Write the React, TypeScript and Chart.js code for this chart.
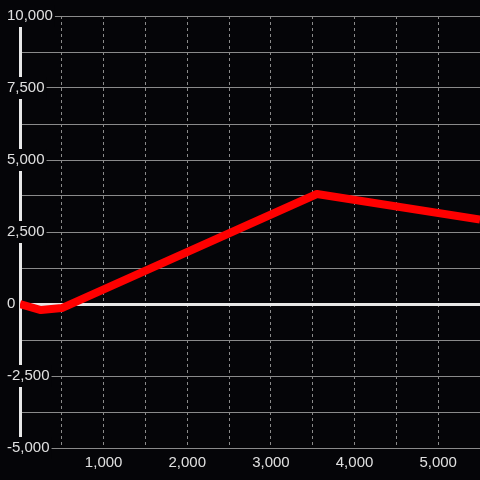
import React, { useEffect, useRef } from "react";
import { Chart, registerables } from "chart.js";

Chart.register(...registerables);

const xValues: number[] = [0, 250, 500, 3550, 5500];
const yValues: number[] = [0, -210, -140, 3820, 2930];

const xMin = 0;
const xMax = 5500;
const xStep = 500;
const xLabelEvery = 1000;

const yMin = -5000;
const yMax = 10000;
const yStep = 1250;
const yLabelEvery = 2500;

const BG = "#050508";
const TEXT = "#e0e0e0";
const GRID = "#8a8a8a";
const ZERO = "#e8e8e8";
const LINE = "#ff0000";

const fmt = (v: number) => v.toLocaleString("en-US");

export default function App() {
  const ref = useRef<HTMLCanvasElement | null>(null);

  useEffect(() => {
    document.body.style.margin = "0";
    document.body.style.background = BG;
    const canvas = ref.current;
    if (!canvas) return;

    const bgPlugin = {
      id: "bg",
      beforeDraw(chart: any) {
        const ctx = chart.ctx;
        ctx.save();
        ctx.fillStyle = BG;
        ctx.fillRect(0, 0, chart.width, chart.height);
        ctx.restore();
      },
    };

    const chart = new Chart(canvas, {
      type: "line",
      data: {
        datasets: [
          {
            data: xValues.map((x, i) => ({ x, y: yValues[i] })),
            borderColor: LINE,
            borderWidth: 8,
            borderJoinStyle: "round",
            borderCapStyle: "butt",
            pointRadius: 0,
            tension: 0,
            fill: false,
          },
        ],
      },
      options: {
        responsive: false,
        animation: false,
        layout: { padding: { top: 16, left: 0, right: 0, bottom: 0 } },
        plugins: {
          legend: { display: false },
          tooltip: { enabled: false },
        },
        scales: {
          x: {
            type: "linear",
            min: xMin,
            max: xMax,
            afterFit: (s: any) => {
              s.height = 32;
              s.paddingRight = 0;
              s.paddingLeft = 0;
            },
            ticks: {
              stepSize: xStep,
              autoSkip: false,
              maxRotation: 0,
              color: TEXT,
              font: { size: 15, family: "'Liberation Sans', Arial, sans-serif" },
              padding: 6,
              callback: (v: any) => {
                const n = Number(v);
                return n !== 0 && n % xLabelEvery === 0 ? fmt(n) : "";
              },
            },
            grid: {
              color: GRID,
              lineWidth: 1,
              drawTicks: false,
            },
            border: {
              display: true,
              color: GRID,
              width: 1,
              dash: [3, 3],
            },
          },
          y: {
            type: "linear",
            min: yMin,
            max: yMax,
            afterFit: (s: any) => {
              s.width = 20;
            },
            ticks: {
              stepSize: yStep,
              autoSkip: false,
              color: TEXT,
              mirror: true,
              crossAlign: "near",
              padding: -13,
              showLabelBackdrop: true,
              backdropColor: BG,
              backdropPadding: 2,
              font: { size: 15, family: "'Liberation Sans', Arial, sans-serif" },
              callback: (v: any) => {
                const n = Number(v);
                return n % yLabelEvery === 0 ? fmt(n) : "";
              },
            },
            grid: {
              color: (ctx: any) => (ctx.tick && ctx.tick.value === 0 ? ZERO : GRID),
              lineWidth: (ctx: any) => (ctx.tick && ctx.tick.value === 0 ? 3 : 1),
              drawTicks: false,
            },
            border: {
              display: true,
              color: ZERO,
              width: 3,
            },
          },
        },
      },
      plugins: [bgPlugin],
    });

    return () => chart.destroy();
  }, []);

  return (
    <div style={{ width: 480, height: 480, background: BG }}>
      <canvas ref={ref} width={480} height={480} />
    </div>
  );
}
